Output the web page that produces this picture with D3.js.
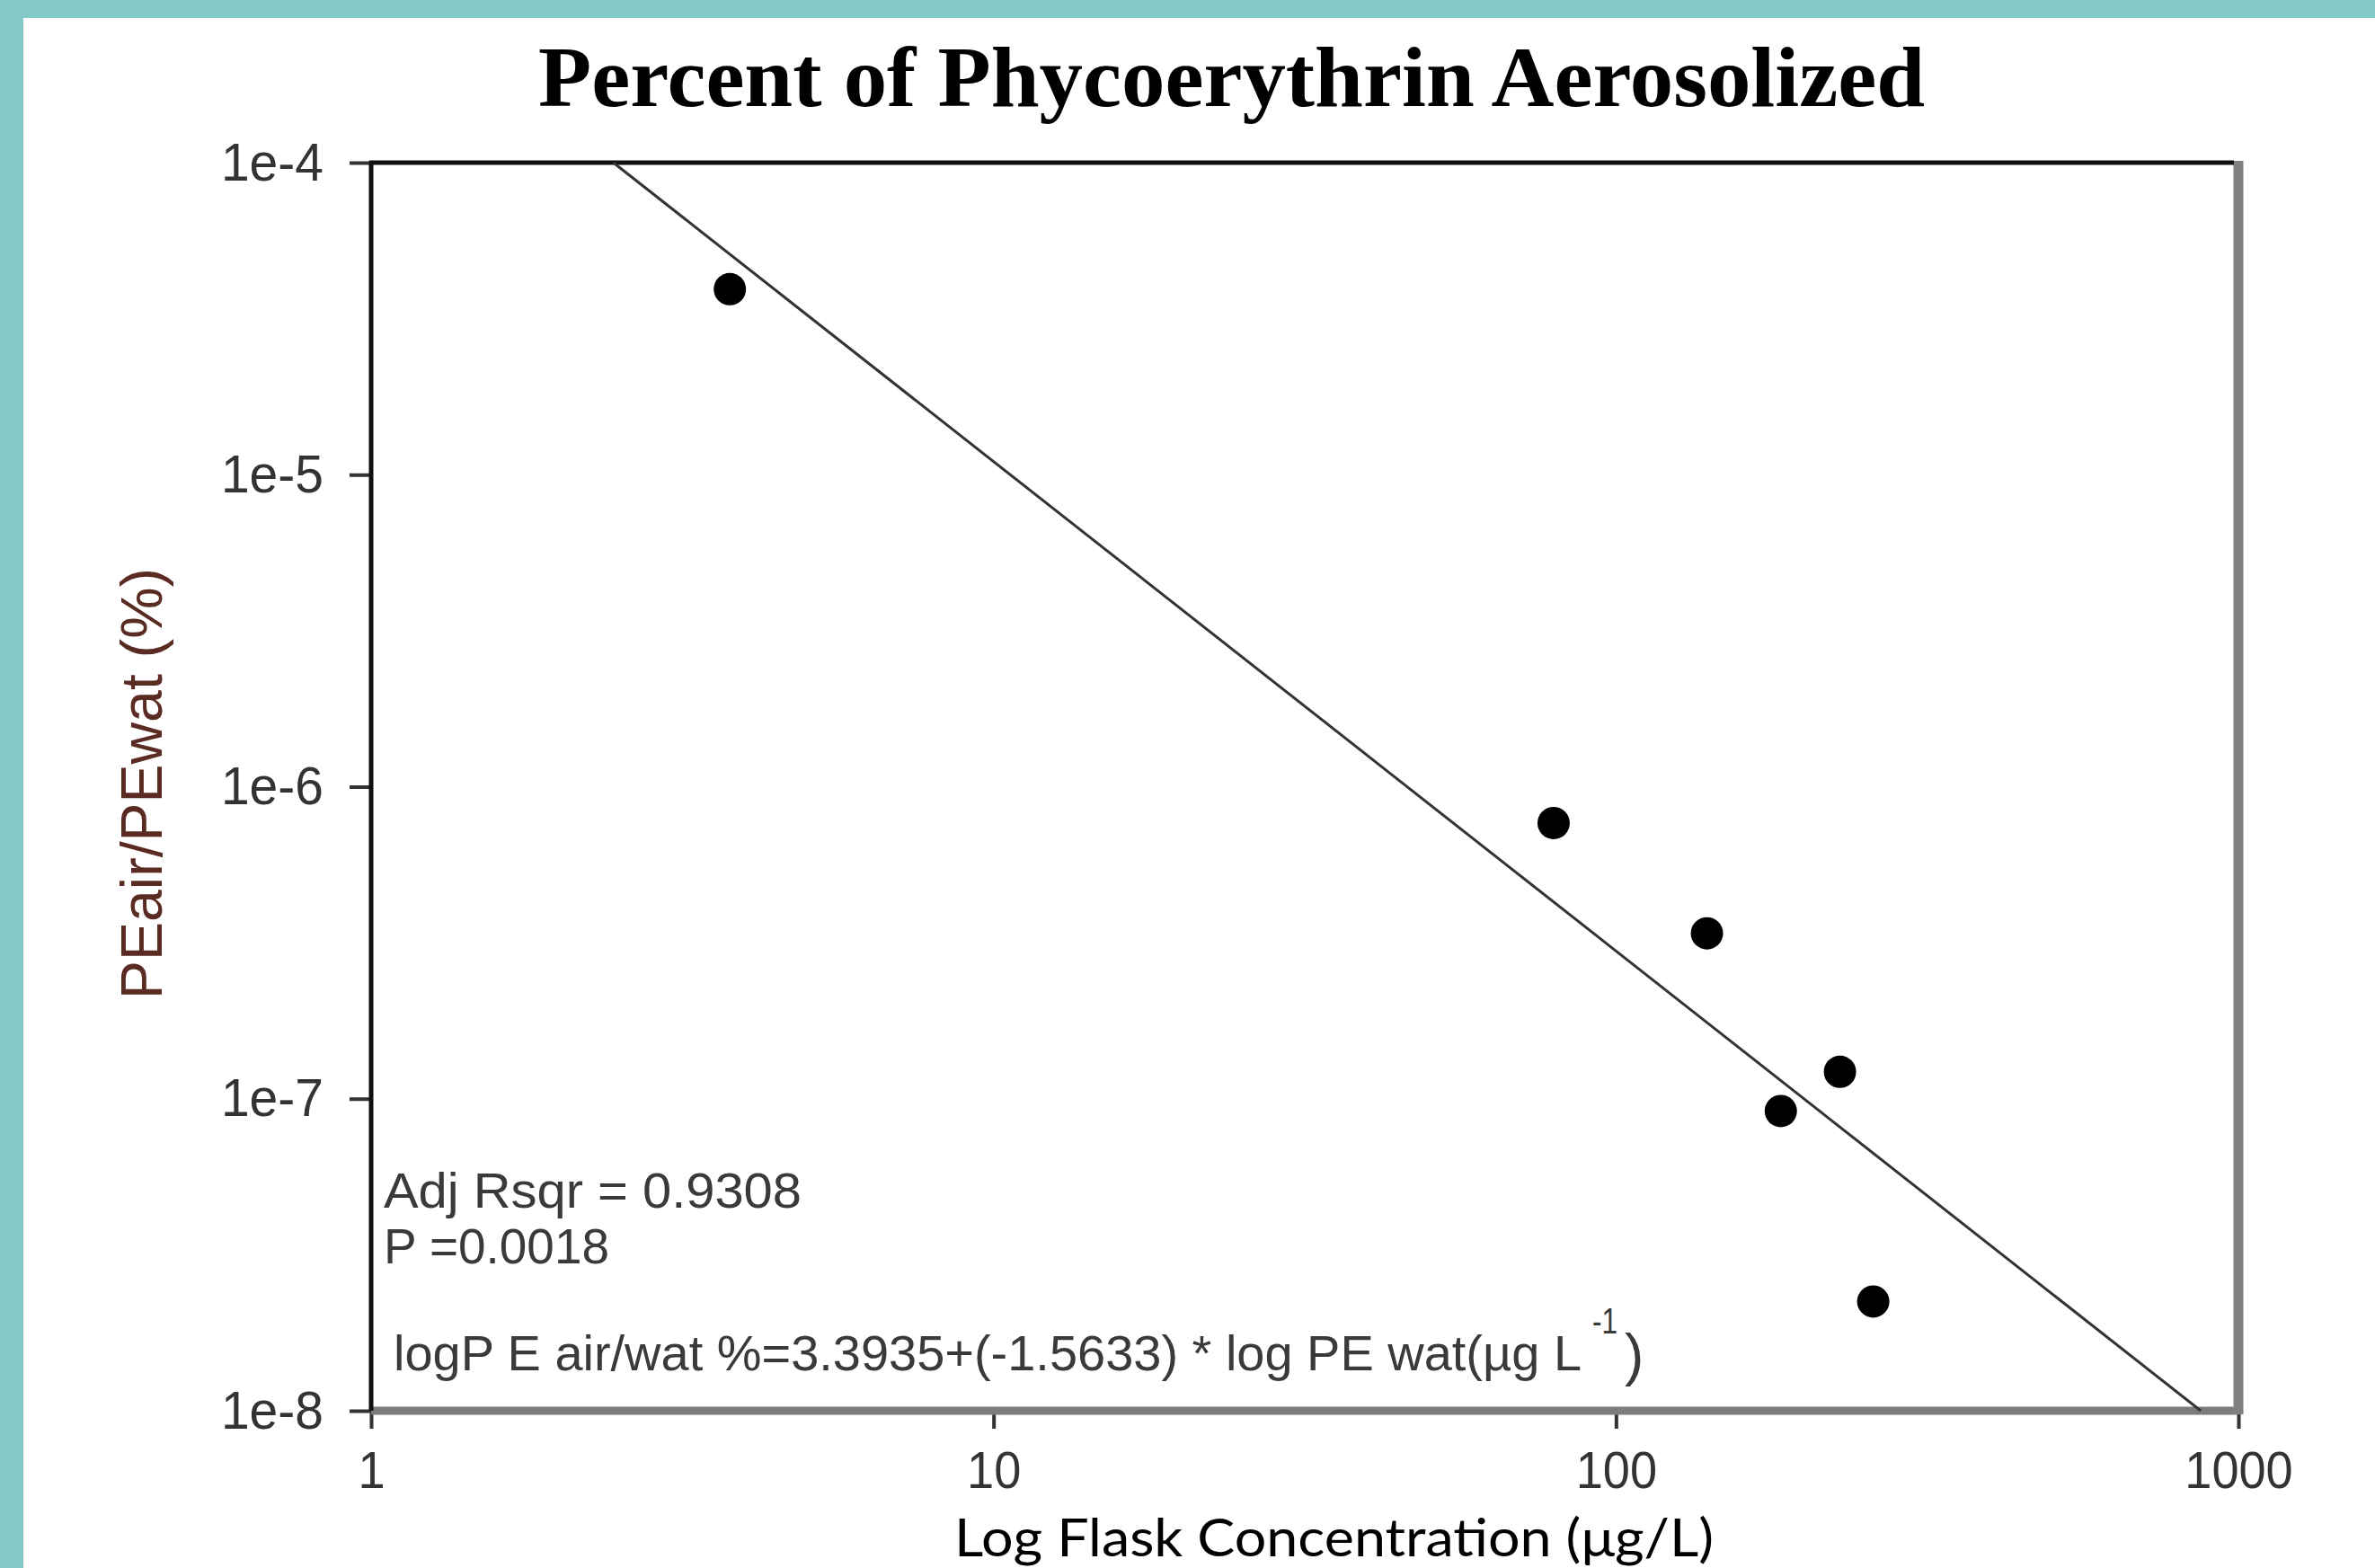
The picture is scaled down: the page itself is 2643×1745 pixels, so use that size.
<!DOCTYPE html>
<html>
<head>
<meta charset="utf-8">
<script src="https://cdn.jsdelivr.net/npm/d3@7"></script>
<style>
  body { margin: 0; background: #fff; }
  svg { display: block; }
</style>
</head>
<body>
<div id="chart"></div>
<script>
// flask concentration (ug/L) and aerosolized fraction
const concentration = [3.77, 79.4, 140, 184, 229, 259];
const peRatio = [3.93e-5, 7.65e-7, 3.39e-7, 9.13e-8, 1.22e-7, 2.24e-8];

// regression line end points as drawn
const fitX = [2.45, 870];
const fitY = [1e-4, 1e-8];

const xTicks = [1, 10, 100, 1000];
const yTicks = [1e-4, 1e-5, 1e-6, 1e-7, 1e-8];

const statLines = ["Adj Rsqr = 0.9308", "P =0.0018"];
const equation = "logP E air/wat %=3.3935+(-1.5633) * log PE wat(\u00b5g L";

const W = 2643, H = 1745;
const plotLeft = 413, plotRight = 2491, plotTop = 181, plotBottom = 1570;

const svg = d3.select("#chart").append("svg")
  .attr("width", W)
  .attr("height", H);

// teal frame strips
svg.append("rect").attr("x", 0).attr("y", 0).attr("width", W).attr("height", 20).attr("fill", "#82c9c7");
svg.append("rect").attr("x", 0).attr("y", 0).attr("width", 26).attr("height", H).attr("fill", "#82c9c7");

const x = d3.scaleLog().domain([1, 1000]).range([plotLeft, plotRight]);
const y = d3.scaleLog().domain([1e-8, 1e-4]).range([plotBottom, plotTop]);

// squeeze text a little, the source art is narrow
function condense(sel, k) {
  sel.each(function () {
    const w = this.getComputedTextLength();
    d3.select(this).attr("textLength", w * k).attr("lengthAdjust", "spacingAndGlyphs");
  });
}

svg.append("text")
  .attr("x", 599)
  .attr("y", 118)
  .attr("font-family", "'Liberation Serif', 'Times New Roman', serif")
  .attr("font-weight", "bold")
  .attr("font-size", 95)
  .attr("fill", "#000")
  .attr("textLength", 1543)
  .attr("lengthAdjust", "spacingAndGlyphs")
  .text("Percent of Phycoerythrin Aerosolized");

// axes
const gx = svg.append("g")
  .attr("transform", `translate(0,${plotBottom})`)
  .call(d3.axisBottom(x).tickValues(xTicks).tickFormat(d3.format("d"))
    .tickSizeInner(20).tickSizeOuter(0).tickPadding(26));

const gy = svg.append("g")
  .attr("transform", `translate(${plotLeft},0)`)
  .call(d3.axisLeft(y).tickValues(yTicks).tickFormat(d3.format(".0e"))
    .tickSizeInner(24).tickSizeOuter(0).tickPadding(29));

[gx, gy].forEach((g) => {
  g.select(".domain").remove();
  g.selectAll(".tick line").attr("stroke", "#333").attr("stroke-width", 4);
  g.selectAll(".tick text")
    .attr("font-family", "'Liberation Sans', Arial, sans-serif")
    .attr("font-size", 60)
    .attr("fill", "#333");
});
gx.selectAll(".tick text").attr("font-size", 57);
condense(gx.selectAll(".tick text"), 0.95);
condense(gy.selectAll(".tick text"), 0.95);

// plot frame: black left/top, grey right/bottom
svg.append("line")
  .attr("x1", plotLeft).attr("x2", plotRight).attr("y1", plotBottom).attr("y2", plotBottom)
  .attr("stroke", "#7c7c7c").attr("stroke-width", 9);
svg.append("line")
  .attr("x1", plotRight).attr("x2", plotRight).attr("y1", plotTop - 2).attr("y2", plotBottom + 4)
  .attr("stroke", "#808080").attr("stroke-width", 11);
svg.append("line")
  .attr("x1", plotLeft).attr("x2", plotLeft).attr("y1", plotTop - 2).attr("y2", plotBottom)
  .attr("stroke", "#111").attr("stroke-width", 5);
svg.append("line")
  .attr("x1", plotLeft - 2).attr("x2", plotRight - 5).attr("y1", plotTop).attr("y2", plotTop)
  .attr("stroke", "#111").attr("stroke-width", 5);

// regression line
svg.append("path")
  .datum(fitX.map((d, i) => [d, fitY[i]]))
  .attr("d", d3.line().x((d) => x(d[0])).y((d) => y(d[1])))
  .attr("fill", "none")
  .attr("stroke", "#333")
  .attr("stroke-width", 3);

// data points
svg.append("g")
  .selectAll("circle")
  .data(concentration)
  .enter()
  .append("circle")
  .attr("cx", (d) => x(d))
  .attr("cy", (d, i) => y(peRatio[i]))
  .attr("r", 18)
  .attr("fill", "#000");

// fit statistics
const stats = svg.append("g")
  .attr("font-family", "'Liberation Sans', Arial, sans-serif")
  .attr("font-size", 56)
  .attr("fill", "#3a3a3a");

stats.append("text").attr("x", 427).attr("y", 1344)
  .attr("textLength", 465).attr("lengthAdjust", "spacingAndGlyphs")
  .text(statLines[0]);
stats.append("text").attr("x", 427).attr("y", 1406)
  .attr("textLength", 251).attr("lengthAdjust", "spacingAndGlyphs")
  .text(statLines[1]);
stats.append("text").attr("x", 438).attr("y", 1525)
  .attr("textLength", 1322).attr("lengthAdjust", "spacingAndGlyphs")
  .text(equation);
stats.append("text").attr("x", 1772).attr("y", 1484)
  .attr("font-size", 40)
  .attr("textLength", 28).attr("lengthAdjust", "spacingAndGlyphs")
  .text("-1");
stats.append("text").attr("x", 1808).attr("y", 1530)
  .attr("font-size", 64)
  .text(")");

// axis titles
svg.append("text")
  .attr("transform", "translate(180,872) rotate(-90)")
  .attr("text-anchor", "middle")
  .attr("font-family", "'Liberation Sans', Arial, sans-serif")
  .attr("font-size", 64)
  .attr("fill", "#5a2b22")
  .attr("textLength", 480)
  .attr("lengthAdjust", "spacingAndGlyphs")
  .text("PEair/PEwat (%)");

svg.append("text")
  .attr("x", 1062)
  .attr("y", 1732)
  .attr("font-family", "Lato, 'Open Sans', sans-serif")
  .attr("font-size", 58)
  .attr("fill", "#000")
  .attr("textLength", 845)
  .attr("lengthAdjust", "spacingAndGlyphs")
  .text("Log Flask Concentration (\u03bcg/L)");
</script>
</body>
</html>
